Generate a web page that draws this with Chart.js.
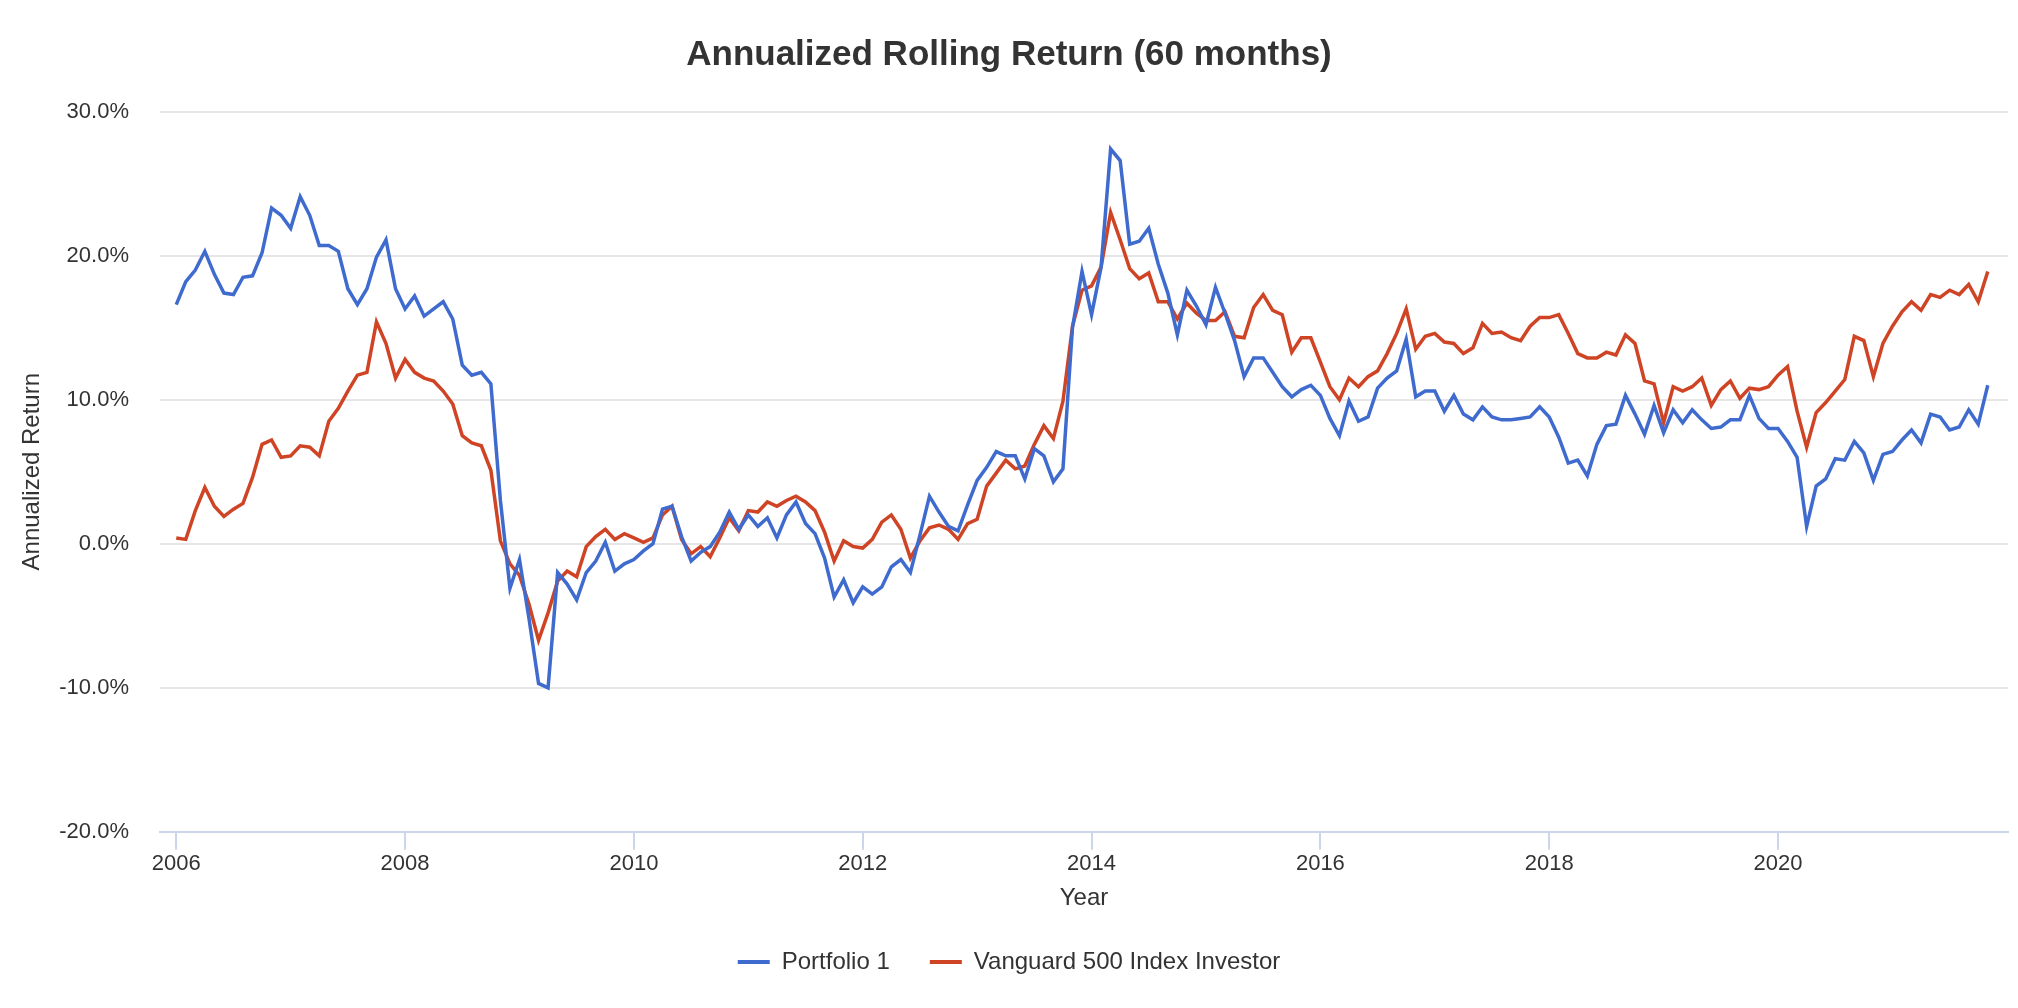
<!DOCTYPE html>
<html><head><meta charset="utf-8">
<script src="https://cdn.jsdelivr.net/npm/chart.js@4.4.0/dist/chart.umd.min.js"></script>
<style>html,body{margin:0;padding:0;background:#fff;}#wrap{width:2018px;height:1008px;position:relative;}</style>
</head><body><div id="wrap"><canvas id="c"></canvas></div>
<script>
// Monthly observations starting January 2006
const startYear = 2006;
const seriesNames = ["Portfolio 1", "Vanguard 500 Index Investor"];
const portfolio1 = [
16.6,18.2,19.0,20.3,18.7,17.4,17.3,18.5,18.6,20.2,23.3,22.8,
21.9,24.1,22.8,20.7,20.7,20.3,17.7,16.6,17.7,19.9,21.1,17.7,
16.3,17.2,15.8,16.3,16.8,15.6,12.4,11.7,11.9,11.1,3.0,-3.1,
-1.1,-5.2,-9.7,-10.0,-2.0,-2.8,-3.9,-2.0,-1.2,0.1,-1.9,-1.4,
-1.1,-0.5,0.0,2.4,2.6,0.5,-1.2,-0.6,-0.2,0.8,2.2,1.0,
2.0,1.2,1.8,0.4,2.0,2.9,1.4,0.7,-1.0,-3.7,-2.5,-4.1,
-3.0,-3.5,-3.0,-1.6,-1.1,-2.0,0.6,3.3,2.2,1.2,0.9,2.7,
4.4,5.3,6.4,6.1,6.1,4.5,6.6,6.1,4.3,5.2,15.0,18.9,
15.9,19.2,27.4,26.6,20.8,21.0,21.9,19.4,17.4,14.5,17.6,16.5,
15.2,17.8,16.0,14.1,11.6,12.9,12.9,11.9,10.9,10.2,10.7,11.0,
10.3,8.7,7.5,9.9,8.5,8.8,10.8,11.5,12.0,14.2,10.2,10.6,
10.6,9.2,10.3,9.0,8.6,9.5,8.8,8.6,8.6,8.7,8.8,9.5,
8.8,7.4,5.6,5.8,4.7,6.9,8.2,8.3,10.3,9.0,7.6,9.6,
7.7,9.3,8.4,9.3,8.6,8.0,8.1,8.6,8.6,10.3,8.7,8.0,
8.0,7.1,6.0,1.2,4.0,4.5,5.9,5.8,7.1,6.3,4.4,6.2,
6.4,7.2,7.9,7.0,9.0,8.8,7.9,8.1,9.3,8.3,11.0
];
const vanguard500 = [
0.4,0.3,2.3,3.9,2.6,1.9,2.4,2.8,4.6,6.9,7.2,6.0,
6.1,6.8,6.7,6.1,8.5,9.4,10.6,11.7,11.9,15.4,13.9,11.5,
12.8,11.9,11.5,11.3,10.6,9.7,7.5,7.0,6.8,5.1,0.2,-1.4,
-2.2,-4.2,-6.7,-4.8,-2.6,-1.9,-2.3,-0.2,0.5,1.0,0.3,0.7,
0.4,0.1,0.4,2.0,2.6,0.3,-0.7,-0.2,-0.9,0.4,1.8,0.9,
2.3,2.2,2.9,2.6,3.0,3.3,2.9,2.3,0.8,-1.2,0.2,-0.2,
-0.3,0.3,1.5,2.0,1.0,-1.0,0.2,1.1,1.3,1.0,0.3,1.4,
1.7,4.0,4.9,5.8,5.2,5.4,6.9,8.2,7.3,9.9,15.1,17.6,
17.9,19.2,23.0,21.1,19.1,18.4,18.8,16.8,16.8,15.6,16.7,16.0,
15.5,15.5,16.1,14.4,14.3,16.4,17.3,16.2,15.9,13.3,14.3,14.3,
12.6,10.9,10.0,11.5,10.9,11.6,12.0,13.2,14.6,16.3,13.5,14.4,
14.6,14.0,13.9,13.2,13.6,15.3,14.6,14.7,14.3,14.1,15.1,15.7,
15.7,15.9,14.6,13.2,12.9,12.9,13.3,13.1,14.5,13.9,11.3,11.1,
8.4,10.9,10.6,10.9,11.5,9.6,10.7,11.3,10.1,10.8,10.7,10.9,
11.7,12.3,9.2,6.7,9.1,9.8,10.6,11.4,14.4,14.1,11.6,13.9,
15.1,16.1,16.8,16.2,17.3,17.1,17.6,17.3,18.0,16.8,18.9
];
const xTickYears = [2006, 2008, 2010, 2012, 2014, 2016, 2018, 2020];
const yTickValues = [-20, -10, 0, 10, 20, 30];

const monthX = portfolio1.map((_, i) => startYear + i / 12);
const FONT = '"Liberation Sans", Arial, Helvetica, sans-serif';
Chart.defaults.font.family = FONT;
Chart.defaults.color = '#333333';
const BLUE = '#3f6bcf', RED = '#cf4425';

new Chart(document.getElementById('c'), {
  type: 'line',
  data: {
    datasets: [
      { label: seriesNames[0], data: monthX.map((x, i) => ({x, y: portfolio1[i]})),
        borderColor: BLUE, backgroundColor: BLUE, borderWidth: 3.5,
        pointRadius: 0, tension: 0, fill: false },
      { label: seriesNames[1], data: monthX.map((x, i) => ({x, y: vanguard500[i]})),
        borderColor: RED, backgroundColor: RED, borderWidth: 3.5,
        pointRadius: 0, tension: 0, fill: false }
    ]
  },
  options: {
    responsive: true, maintainAspectRatio: false, devicePixelRatio: 1, animation: false,
    layout: { padding: { left: 10, right: 10, top: 0, bottom: 24 } },
    plugins: {
      tooltip: { enabled: false },
      title: { display: true, text: 'Annualized Rolling Return (60 months)', color: '#333333',
        font: { size: 35, weight: 'bold', family: FONT }, padding: { top: 34, bottom: 35.6 } },
      legend: { position: 'bottom',
        labels: { boxWidth: 32, boxHeight: 4, padding: 20, color: '#333333',
          font: { size: 24, family: FONT },
          generateLabels(chart) {
            const items = Chart.defaults.plugins.legend.labels.generateLabels(chart);
            items.forEach((it, i) => { it.lineWidth = 0; if (i === 0) it.text = it.text + '   '; });
            return items;
          } } }
    },
    scales: {
      x: { type: 'linear', min: 2005.858, max: 2022.01,
        afterBuildTicks(scale) { scale.ticks = xTickYears.map(v => ({ value: v })); },
        ticks: { font: { size: 22 }, color: '#333333', padding: 1, maxRotation: 0, autoSkip: false,
          callback: v => String(v) },
        grid: { display: true, drawOnChartArea: false, drawTicks: true, tickLength: 18,
          color: '#ccd6eb', lineWidth: 2 },
        border: { display: true, color: '#ccd6eb', width: 2 },
        title: { display: true, text: 'Year', color: '#333333', font: { size: 24 },
          padding: { top: 6, bottom: 17 } } },
      y: { min: -20, max: 30,
        afterBuildTicks(scale) { scale.ticks = yTickValues.map(v => ({ value: v })); },
        afterFit(scale) { scale.width = 150; },
        ticks: { font: { size: 22 }, color: '#333333', padding: 31,
          callback: v => v.toFixed(1) + '%' },
        grid: { drawTicks: false, lineWidth: 2,
          color: ctx => (ctx.tick && ctx.tick.value === -20) ? '#ccd6eb' : '#e6e6e6' },
        border: { display: false },
        title: { display: true, text: 'Annualized Return', color: '#333333', font: { size: 24 },
          padding: { top: 8, bottom: 10 } } }
    }
  }
});
</script></body></html>
